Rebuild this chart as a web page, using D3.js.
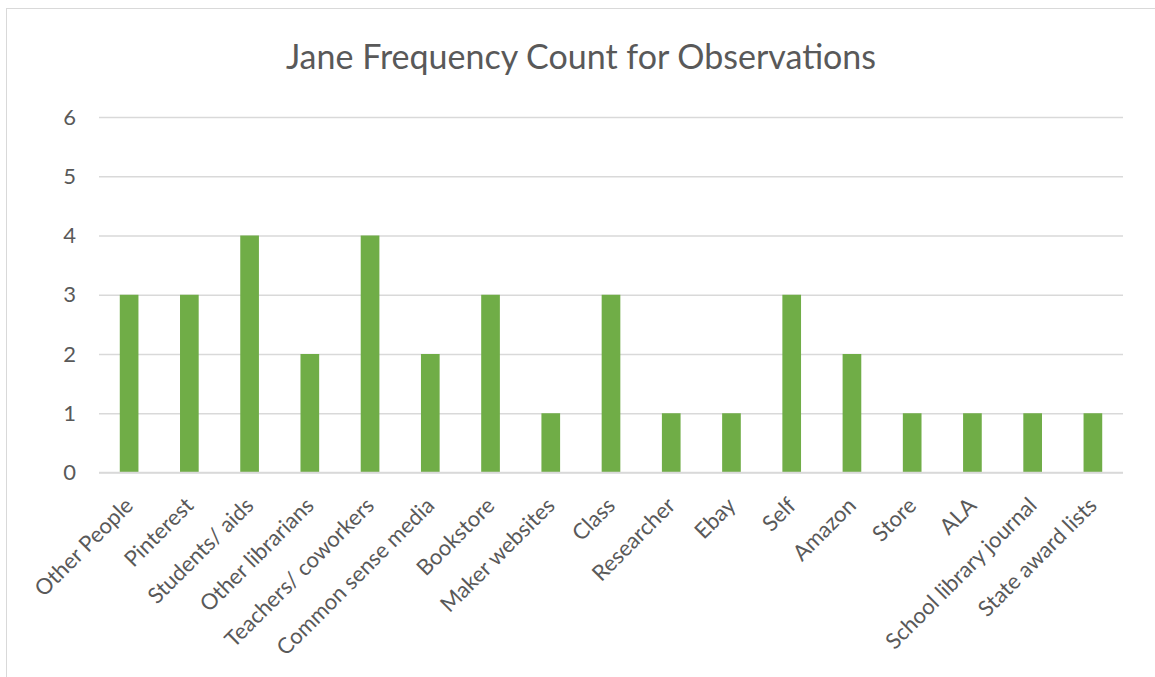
<!DOCTYPE html>
<html>
<head>
<meta charset="utf-8">
<script src="https://cdn.jsdelivr.net/npm/d3@7"></script>
<style>
  html, body { margin: 0; padding: 0; background: #fff; }
  svg { display: block; }
  svg text { font-family: Lato, "Open Sans", sans-serif; }
</style>
</head>
<body>
<svg id="chart" width="1155" height="677"></svg>
<script>
const chartTitle = "Jane Frequency Count for Observations";
const categories = [
  "Other People", "Pinterest", "Students/ aids", "Other librarians",
  "Teachers/ coworkers", "Common sense media", "Bookstore", "Maker websites",
  "Class", "Researcher", "Ebay", "Self", "Amazon", "Store", "ALA",
  "School library journal", "State award lists"
];
const counts = [3, 3, 4, 2, 4, 2, 3, 1, 3, 1, 1, 3, 2, 1, 1, 1, 1];
const yTicks = [0, 1, 2, 3, 4, 5, 6];

const svg = d3.select("#chart");
const plot = { left: 99, right: 1123, top: 117, bottom: 472.5 };

// outer chart frame
svg.append("rect")
  .attr("x", 6.5).attr("y", 8.5)
  .attr("width", 1160).attr("height", 680)
  .attr("fill", "#fff").attr("stroke", "#d9d9d9").attr("stroke-width", 1);

const x = d3.scaleBand()
  .domain(categories)
  .range([plot.left, plot.right])
  .paddingInner(0.69)
  .paddingOuter(0.345);

const y = d3.scaleLinear()
  .domain([0, 6])
  .range([plot.bottom, plot.top]);

// horizontal gridlines + y labels
const yAxis = d3.axisLeft(y)
  .tickValues(yTicks)
  .tickSize(-(plot.right - plot.left))
  .tickPadding(23)
  .tickFormat(d3.format("d"));

const gy = svg.append("g")
  .attr("transform", `translate(${plot.left},0)`)
  .call(yAxis)
  .attr("font-family", null);
gy.select(".domain").remove();
gy.selectAll(".tick line").attr("stroke", "#d9d9d9").attr("stroke-width", 1.5);
gy.selectAll(".tick text")
  .attr("fill", "#595959")
  .style("font-size", "22px");

// bars
svg.append("g")
  .selectAll("rect")
  .data(categories)
  .join("rect")
  .attr("x", d => x(d))
  .attr("width", x.bandwidth())
  .attr("y", (d, i) => y(counts[i]))
  .attr("height", (d, i) => y(0) - y(counts[i]))
  .attr("fill", "#70ad47");

// x axis line drawn over bar bottoms
svg.append("line")
  .attr("x1", plot.left).attr("x2", plot.right)
  .attr("y1", y(0)).attr("y2", y(0))
  .attr("stroke", "#d9d9d9").attr("stroke-width", 1.5);

// rotated category labels
const xAxis = d3.axisBottom(x).tickSize(0).tickPadding(0);
const gx = svg.append("g")
  .attr("transform", `translate(0,${plot.bottom})`)
  .call(xAxis)
  .attr("font-family", null);
gx.select(".domain").remove();
gx.selectAll(".tick text")
  .attr("fill", "#595959")
  .style("font-size", "22px")
  .attr("text-anchor", "end")
  .attr("dy", null)
  .attr("y", 0)
  .attr("transform", "translate(-7,22) rotate(-45)")
  .attr("dominant-baseline", "hanging");

// title
svg.append("text")
  .attr("x", 581)
  .attr("y", 69)
  .attr("text-anchor", "middle")
  .attr("fill", "#595959")
  .style("font-size", "34px")
  .text(chartTitle);
</script>
</body>
</html>
